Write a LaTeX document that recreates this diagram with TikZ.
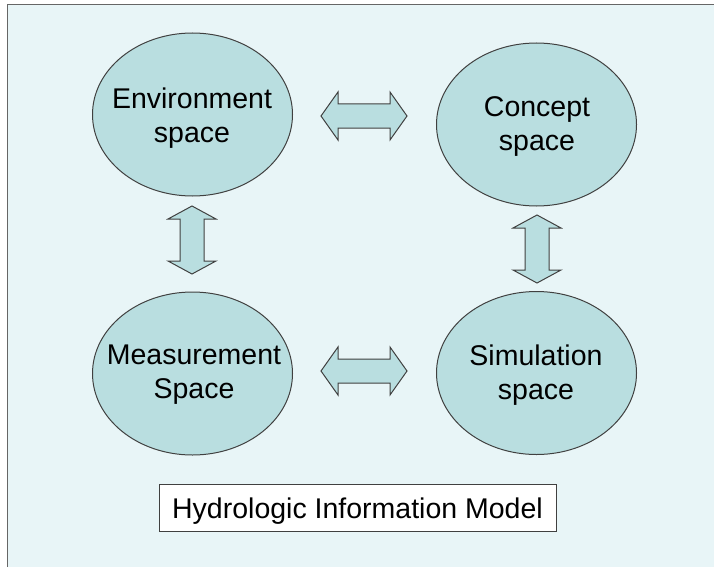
\documentclass[tikz,border=0pt]{standalone}
\usepackage{fontspec}
\setmainfont{Liberation Sans}
\definecolor{bgc}{HTML}{E8F5F7}
\definecolor{ellc}{HTML}{B9DEE0}
\definecolor{edgec}{HTML}{404040}
\usetikzlibrary{shapes.geometric}
\tikzset{
  space/.style={ellipse, draw=edgec, line width=1pt, fill=ellc, inner sep=0pt,
    minimum width=200pt, minimum height=163pt},
  spacetext/.style={align=center, inner sep=0pt, font=\fontsize{28.5}{34}\selectfont},
  blockarrow/.style={draw=edgec, line width=1pt, fill=ellc, line join=miter},
  caption/.style={draw=edgec, line width=0.8pt, fill=white, inner sep=0pt,
    text height=27pt, text depth=6pt,
    minimum width=397pt, minimum height=47pt, font=\fontsize{28.5}{34}\selectfont}
}
\newcommand{\harrow}[3]{% name, x, y
  \draw[blockarrow] (#2-43,#3) -- (#2-26,#3-24) -- (#2-26,#3-12) -- (#2+26,#3-12) -- (#2+26,#3-24)
    -- (#2+43,#3) -- (#2+26,#3+24) -- (#2+26,#3+12) -- (#2-26,#3+12) -- (#2-26,#3+24) -- cycle;
  \coordinate (#1) at (#2,#3);}
\newcommand{\varrow}[3]{%
  \draw[blockarrow] (#2,#3-34) -- (#2+24,#3-21) -- (#2+12,#3-21) -- (#2+12,#3+21) -- (#2+24,#3+21)
    -- (#2,#3+34) -- (#2-24,#3+21) -- (#2-12,#3+21) -- (#2-12,#3-21) -- (#2-24,#3-21) -- cycle;
  \coordinate (#1) at (#2,#3);}
\begin{document}
\begin{tikzpicture}[x=1pt,y=-1pt]
\useasboundingbox (0,0) rectangle (714,567);
\fill[white] (0,0) rectangle (714,567);
\fill[bgc] (7,5) rectangle (714,567);
\draw[edgec!80, line width=1pt] (7,567) -- (7,5) -- (714,5);
\node[space] (env) at (192.5,114.5) {};
\node[space] (con) at (536.5,124.5) {};
\node[space] (mea) at (192.5,373.5) {};
\node[space] (sim) at (536.5,373) {};
\node[spacetext] (envt) at (192,118) {Environment\\space};
\node[spacetext] (cont) at (537,127) {Concept\\space};
\node[spacetext] (meat) at (194,375) {Measurement\\Space};
\node[spacetext] (simt) at (536,375) {Simulation\\space};
\harrow{a1}{364}{116}
\harrow{a2}{364}{371}
\varrow{a3}{192}{240}
\varrow{a4}{537}{249}
\node[caption] (cap) at (357.5,507.5) {Hydrologic Information Model};
\end{tikzpicture}
\end{document}
